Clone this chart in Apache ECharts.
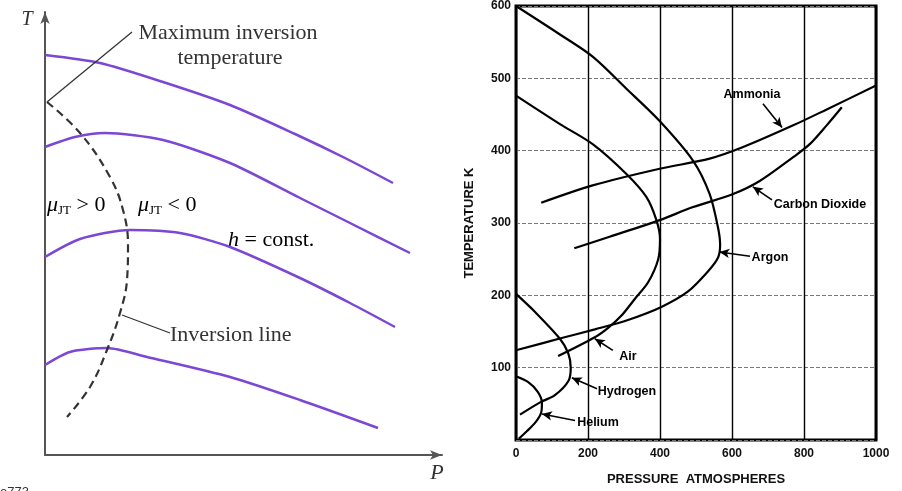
<!DOCTYPE html>
<html>
<head>
<meta charset="utf-8">
<script src="https://cdn.jsdelivr.net/npm/echarts@6/dist/echarts.min.js"></script>
<style>
  html, body { margin: 0; padding: 0; background: #fff; }
  #chart { width: 902px; height: 491px; }
</style>
</head>
<body>
<div id="chart"></div>
<script>
// left sketch (arbitrary units): [P, T]
const hCurve1 = [[0, 400], [55, 392], [118, 373], [185, 350], [250, 321], [300, 297], [348, 272]];
const hCurve2 = [[0, 308], [30, 318], [60, 322], [118, 315], [185, 292], [255, 257], [305, 232], [365, 202]];
const hCurve3 = [[0, 198], [35, 216], [85, 225], [135, 222], [185, 208], [255, 177], [305, 152], [350, 128]];
const hCurve4 = [[0, 90], [25, 103], [62, 107], [102, 98], [185, 78], [255, 55], [333, 27]];
const inversionLine = [[2, 353], [35, 322], [65, 278], [78, 245], [83, 210], [82, 175], [75, 142], [62, 105], [45, 68], [22, 38]];
const maxInvLeader = [[2, 353], [87, 423]];
const invLineLeader = [[77, 140], [125, 122]];

// right chart: pressure (atm) vs temperature (K)
const pressureTicks = [0, 200, 400, 600, 800, 1000];
const tempTicks = [0, 100, 200, 300, 400, 500, 600];
const argon = [[0, 600], [121, 561], [213, 530], [306, 486], [399, 441], [492, 386], [538, 340], [561, 294],
  [567, 270], [561, 252], [533, 233], [477, 205], [404, 184], [311, 166], [219, 153], [127, 141], [0, 124]];
const air = [[0, 476], [121, 437], [213, 409], [306, 368], [362, 336], [390, 304], [400, 278], [395, 250],
  [367, 218], [330, 195], [293, 172], [256, 155], [219, 142], [117, 116]];
const hydrogen = [[0, 202], [53, 177], [122, 140], [145, 120], [152, 100], [146, 82], [108, 62], [67, 52], [11, 35]];
const helium = [[0, 88], [34, 80], [60, 67], [72, 52], [70, 38], [55, 25], [30, 12], [8, 2]];
const ammonia = [[70, 328], [213, 352], [399, 375], [538, 389], [631, 405], [770, 435], [863, 457], [1000, 490]];
const carbonDioxide = [[162, 265], [260, 281], [399, 304], [492, 322], [603, 340], [677, 358], [770, 391],
  [816, 409], [863, 435], [905, 460]];
// arrows from labels to curves: [tail, head]
const arrows = [
  [[686, 465], [739, 432]],
  [[711, 332], [658, 350]],
  [[650, 254], [565, 260]],
  [[269, 124], [219, 140]],
  [[225, 71], [155, 86]],
  [[164, 27], [72, 36]]
];

const purple = '#7b47d4';
const serif = '"Liberation Serif", "DejaVu Serif", serif';
const sans = '"Liberation Sans", Arial, sans-serif';

const chart = echarts.init(document.getElementById('chart'));

function sketchLine(data, color, width, type, smooth) {
  return {
    type: 'line', xAxisIndex: 0, yAxisIndex: 0, data: data,
    smooth: smooth === undefined ? 0.25 : smooth, symbol: 'none', silent: true,
    lineStyle: { color: color, width: width, type: type || 'solid' }
  };
}
function gasLine(data) {
  return {
    type: 'line', xAxisIndex: 1, yAxisIndex: 1, data: data,
    smooth: 0.3, symbol: 'none', silent: true, clip: false,
    lineStyle: { color: '#000', width: 2.2 }
  };
}

const ammoniaSeries = gasLine(ammonia);
ammoniaSeries.markLine = {
  silent: true,
  symbol: ['none', 'arrow'],
  symbolSize: [7, 10],
  label: { show: false },
  lineStyle: { color: '#000', width: 1.6, type: 'solid' },
  data: arrows.map(a => [{ coord: a[0] }, { coord: a[1] }])
};

function txt(text, x, y, font, align, extra) {
  return {
    type: 'text',
    style: Object.assign({
      text: text, x: x, y: y, font: font, fill: '#333',
      align: align || 'center', verticalAlign: 'middle'
    }, extra || {})
  };
}

const muRich = {
  m: { fontFamily: serif, fontStyle: 'italic', fontSize: 22, color: '#333', lineHeight: 24 },
  s: { fontFamily: serif, fontSize: 13, color: '#333', lineHeight: 24, verticalAlign: 'bottom', padding: [10, 0, 0, 0] },
  r: { fontFamily: serif, fontSize: 22, color: '#333', lineHeight: 24 },
  i: { fontFamily: serif, fontStyle: 'italic', fontSize: 22, color: '#333', lineHeight: 24 }
};

const boldLabel = 'bold 12.5px ' + sans;

const option = {
  animation: false,
  backgroundColor: '#fff',
  grid: [
    { left: 45, top: 12, width: 397, height: 443 },
    { left: 516, top: 5, width: 360, height: 437, show: true, borderColor: '#000', borderWidth: 3 }
  ],
  xAxis: [
    {
      gridIndex: 0, type: 'value', min: 0, max: 397,
      axisLine: { show: true, symbol: ['none', 'arrow'], symbolSize: [7, 12], lineStyle: { color: '#555', width: 2 } },
      axisTick: { show: false }, axisLabel: { show: false }, splitLine: { show: false }
    },
    {
      gridIndex: 1, type: 'value', min: pressureTicks[0], max: pressureTicks[pressureTicks.length - 1], interval: 200,
      axisLine: { show: false }, axisTick: { show: false },
      axisLabel: { color: '#111', fontFamily: sans, fontWeight: 'bold', fontSize: 12, margin: 8, formatter: v => String(v) },
      splitLine: { show: true, lineStyle: { color: '#000', width: 1.4 } },
      name: 'PRESSURE  ATMOSPHERES', nameLocation: 'middle', nameGap: 33,
      nameTextStyle: { color: '#111', fontFamily: sans, fontWeight: 'bold', fontSize: 13 }
    }
  ],
  yAxis: [
    {
      gridIndex: 0, type: 'value', min: 0, max: 443,
      axisLine: { show: true, symbol: ['none', 'arrow'], symbolSize: [7, 12], lineStyle: { color: '#555', width: 2 } },
      axisTick: { show: false }, axisLabel: { show: false }, splitLine: { show: false }
    },
    {
      gridIndex: 1, type: 'value', min: tempTicks[0], max: tempTicks[tempTicks.length - 1], interval: 100,
      axisLine: { show: false }, axisTick: { show: false },
      axisLabel: {
        color: '#111', fontFamily: sans, fontWeight: 'bold', fontSize: 12, margin: 5,
        formatter: v => (v === 0 ? '' : String(v))
      },
      splitLine: { show: true, lineStyle: { color: '#777', width: 1, type: [4, 2] } },
      name: 'TEMPERATURE K', nameLocation: 'middle', nameGap: 40, nameRotate: 90,
      nameTextStyle: { color: '#111', fontFamily: sans, fontWeight: 'bold', fontSize: 13 }
    }
  ],
  series: [
    sketchLine(hCurve1, purple, 2.5),
    sketchLine(hCurve2, purple, 2.5),
    sketchLine(hCurve3, purple, 2.5),
    sketchLine(hCurve4, purple, 2.5),
    sketchLine(inversionLine, '#333', 2.2, [8, 5], 0.4),
    sketchLine(maxInvLeader, '#333', 1.3),
    sketchLine(invLineLeader, '#333', 1.3),
    gasLine(argon),
    gasLine(air),
    gasLine(hydrogen),
    gasLine(helium),
    ammoniaSeries,
    gasLine(carbonDioxide)
  ],
  graphic: [
    txt('T', 27, 20, 'italic 20px ' + serif),
    txt('P', 437, 473, 'italic 22px ' + serif),
    txt('Maximum inversion', 228, 33, '22px ' + serif),
    txt('temperature', 230, 58, '22px ' + serif),
    { type: 'text', style: { text: '{m|μ}{s|JT}{r| > 0}', x: 47, y: 205, verticalAlign: 'middle', rich: muRich } },
    { type: 'text', style: { text: '{m|μ}{s|JT}{r| < 0}', x: 138, y: 205, verticalAlign: 'middle', rich: muRich } },
    { type: 'text', style: { text: '{i|h}{r| = const.}', x: 228, y: 240, verticalAlign: 'middle', rich: muRich } },
    txt('Inversion line', 170, 335, '22px ' + serif, 'left'),
    txt('e773', 0, 486, '13px ' + sans, 'left', { verticalAlign: 'top' }),
    txt('Ammonia', 752, 95, boldLabel, 'center', { fill: '#000' }),
    txt('Carbon Dioxide', 820, 205, boldLabel, 'center', { fill: '#000' }),
    txt('Argon', 770, 258, boldLabel, 'center', { fill: '#000' }),
    txt('Air', 628, 357, boldLabel, 'center', { fill: '#000' }),
    txt('Hydrogen', 627, 392, boldLabel, 'center', { fill: '#000' }),
    txt('Helium', 598, 423, boldLabel, 'center', { fill: '#000' })
  ]
};

chart.setOption(option);
</script>
</body>
</html>
